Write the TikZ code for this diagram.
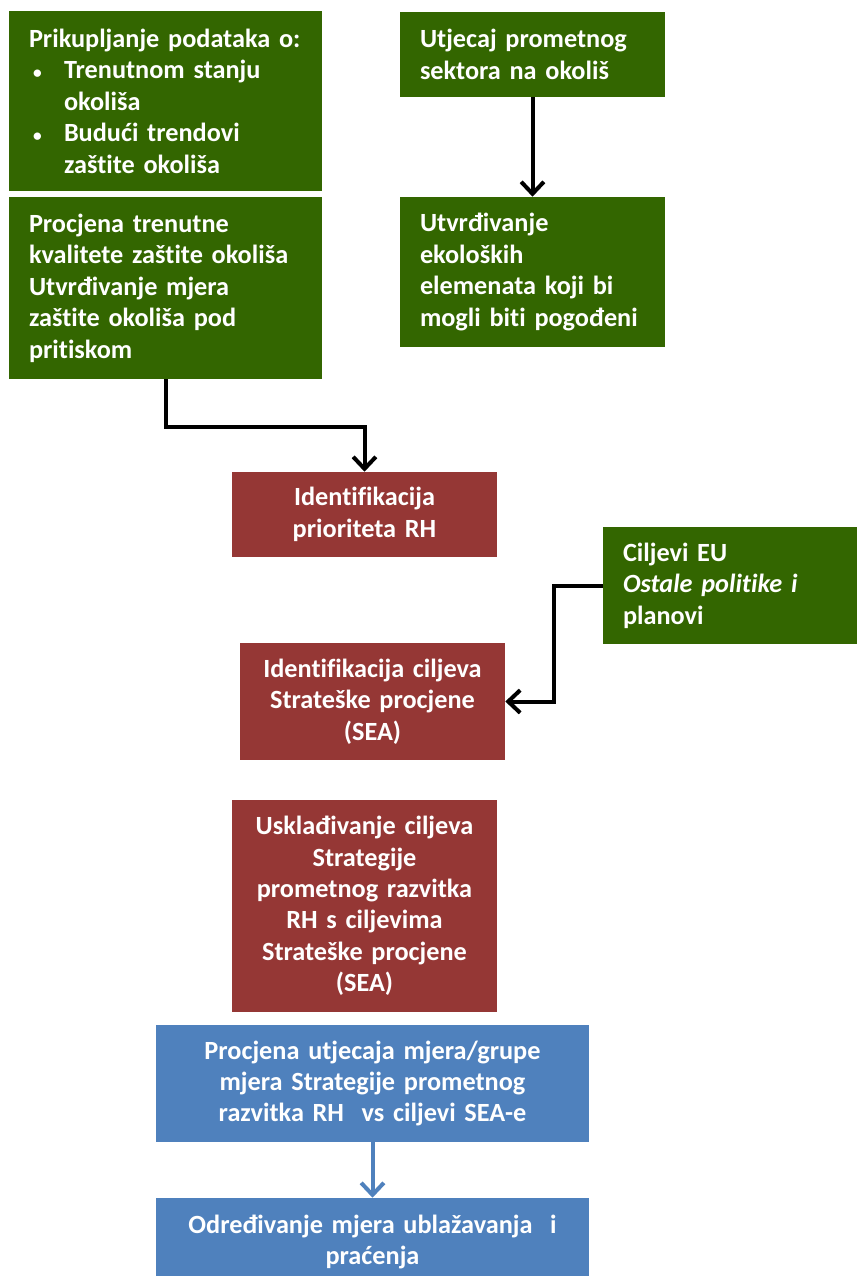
\documentclass[tikz,border=0pt]{standalone}
\usepackage{fontspec}
\setmainfont{Carlito}[Ligatures=NoCommon]
\usepackage{xcolor}
\usepackage{tikz}
\usetikzlibrary{
  arrows.meta,
  positioning,
  calc,
}

\definecolor{envgreen}{HTML}{336600}
\definecolor{seared}{HTML}{953735}
\definecolor{seablue}{HTML}{4F81BD}

\newcommand{\itembullet}{\hspace*{3pt}\makebox[23.25pt][l]{\fontsize{13}{13}\selectfont•}}

\begin{document}
\begin{tikzpicture}[
  x=0.75pt, y=-0.75pt,
  font=\fontsize{19.7}{23.6}\selectfont\bfseries,
  box/.style={rectangle, text=white, inner xsep=15pt, inner ysep=0pt},
  greenbox/.style={box, fill=envgreen, align=left},
  redbox/.style={box, fill=seared, align=center},
  bluebox/.style={box, fill=seablue, align=center},
  arrow/.style={-{Straight Barb[length=9pt,width=17pt]}, line width=3pt},
]

\useasboundingbox (0,0) rectangle (857,1276);

\node[greenbox, minimum width=234.75pt, minimum height=135pt, text width=204.75pt]
  (podaci) at (165.5,101)
  {Prikupljanje podataka o:\\
   \itembullet Trenutnom stanju\\
   \hspace*{26.25pt}okoliša\\
   \itembullet Budući trendovi\\
   \hspace*{26.25pt}zaštite okoliša};

\node[greenbox, minimum width=234.75pt, minimum height=136.5pt, text width=204.75pt]
  (procjena) at (165.5,288)
  {Procjena trenutne\\
   kvalitete zaštite okoliša\\
   Utvrđivanje mjera\\
   zaštite okoliša pod\\
   pritiskom};

\node[greenbox, minimum width=198.75pt, minimum height=63.75pt, text width=168.75pt]
  (utjecaj) at (532.5,54.5)
  {Utjecaj prometnog\\
   sektora na okoliš};

\node[greenbox, minimum width=198.75pt, minimum height=112.5pt, text width=168.75pt]
  (elementi) at (532.5,272)
  {Utvrđivanje\\
   ekoloških\\
   elemenata koji bi\\
   mogli biti pogođeni};

\node[redbox, minimum width=198.75pt, minimum height=63.75pt, text width=168.75pt]
  (prioriteti) at (364.5,514.5)
  {Identifikacija\\
   prioriteta RH};

\node[greenbox, minimum width=190.5pt, minimum height=87.75pt, text width=160.5pt]
  (ciljeviEU) at (730,585.5)
  {Ciljevi EU\\
   \textit{Ostale politike i}\\
   planovi};

\node[redbox, minimum width=198.75pt, minimum height=87.75pt, text width=168.75pt]
  (ciljeviSEA) at (372.5,701.5)
  {Identifikacija ciljeva\\
   Strateške procjene\\
   (SEA)};

\node[redbox, minimum width=198.75pt, minimum height=159pt, text width=168.75pt]
  (uskladivanje) at (364.5,906)
  {Usklađivanje ciljeva\\
   Strategije\\
   prometnog razvitka\\
   RH s ciljevima\\
   Strateške procjene\\
   (SEA)};

\node[bluebox, minimum width=324.75pt, minimum height=87.75pt, text width=294.75pt]
  (mjere) at (372.5,1083.5)
  {Procjena utjecaja mjera/grupe\\
   mjera Strategije prometnog\\
   razvitka RH\ \ vs ciljevi SEA-e};

\node[bluebox, minimum width=324.75pt, minimum height=66pt, text width=294.75pt]
  (ublazavanje) at (372.5,1242)
  {Određivanje mjera ublažavanja\ \ i\\
   praćenja};

\draw[arrow] (procjena.south) -- ++(0,48) -| (prioriteti.north);
\draw[arrow] (utjecaj.south) -- (elementi.north);
\draw[arrow] (ciljeviEU.west) -- ++(-49,0) |- (ciljeviSEA.east);
\draw[arrow, seablue] (mjere.south) -- (ublazavanje.north);

\end{tikzpicture}
\end{document}
